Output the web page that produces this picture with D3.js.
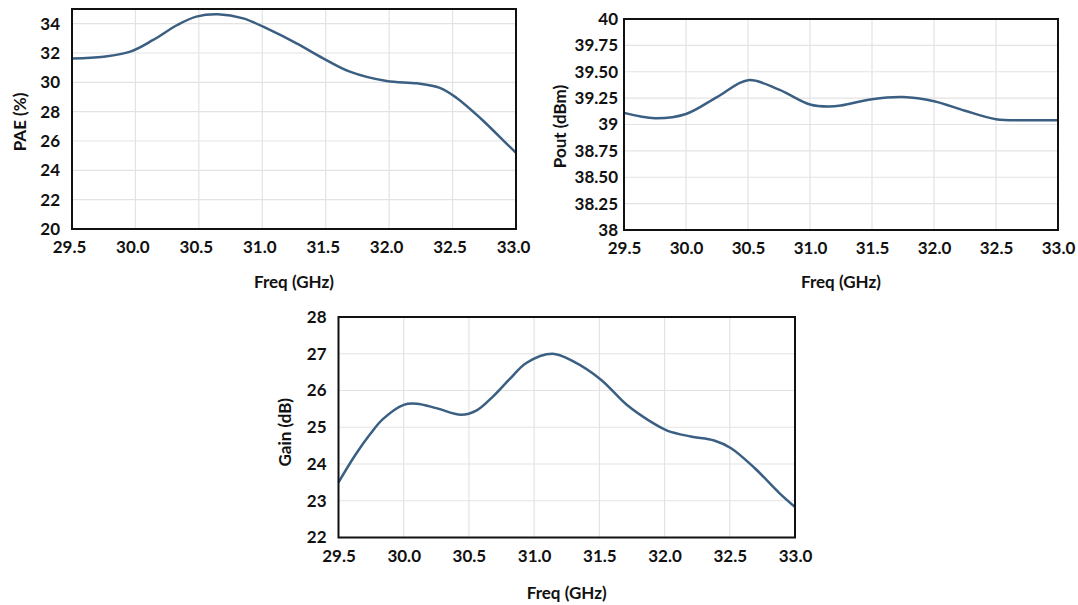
<!DOCTYPE html>
<html><head><meta charset="utf-8">
<script src="https://cdn.jsdelivr.net/npm/d3@7"></script>
<style>
html,body{margin:0;padding:0;background:#fff;}
svg{display:block;}
text{font-family:Lato,"Open Sans",sans-serif;font-weight:bold;fill:#111;}
</style></head>
<body>
<svg id="chart" width="1078" height="605"></svg>
<script>
// ---- data ----
const freqTicks = [29.5, 30.0, 30.5, 31.0, 31.5, 32.0, 32.5, 33.0];

const paeFreq  = [29.5, 29.75, 29.96, 30.14, 30.33, 30.48, 30.65, 30.85, 31.06, 31.27, 31.48, 31.69, 31.98, 32.22, 32.4, 32.53, 32.72, 32.95, 33.0];
const paeVals  = [31.62, 31.75, 32.09, 32.89, 33.91, 34.48, 34.64, 34.36, 33.57, 32.66, 31.64, 30.73, 30.09, 29.93, 29.62, 28.95, 27.55, 25.61, 25.2];
const paeTicks = [20, 22, 24, 26, 28, 30, 32, 34];

const poutFreq = [29.5, 29.75, 30.0, 30.25, 30.5, 30.75, 31.0, 31.15, 31.25, 31.5, 31.75, 32.0, 32.25, 32.5, 32.75, 33.0];
const poutVals = [39.11, 39.06, 39.10, 39.26, 39.42, 39.33, 39.19, 39.17, 39.18, 39.24, 39.26, 39.22, 39.13, 39.05, 39.04, 39.04];
const poutTicks = [38, 38.25, 38.5, 38.75, 39, 39.25, 39.5, 39.75, 40];
const poutTickLabels = ["38", "38.25", "38.50", "38.75", "39", "39.25", "39.50", "39.75", "40"];

const gainFreq = [29.5, 29.63, 29.74, 29.84, 30.0, 30.1, 30.25, 30.44, 30.56, 30.68, 30.81, 30.94, 31.14, 31.3, 31.51, 31.71, 31.89, 32.02, 32.2, 32.38, 32.51, 32.69, 32.88, 33.0];
const gainVals = [23.5, 24.25, 24.8, 25.22, 25.61, 25.64, 25.52, 25.34, 25.46, 25.82, 26.3, 26.75, 27.0, 26.79, 26.3, 25.61, 25.16, 24.91, 24.75, 24.64, 24.43, 23.89, 23.21, 22.83];
const gainTicks = [22, 23, 24, 25, 26, 27, 28];

const xTitle = "Freq (GHz)";

// ---- drawing ----
const svg = d3.select("#chart");

function panel(cfg) {
  const g = svg.append("g");
  const x = d3.scaleLinear().domain([29.5, 33.0]).range([cfg.x0, cfg.x1]);
  const y = d3.scaleLinear().domain(cfg.yDomain).range([cfg.y1, cfg.y0]);

  // grid
  g.append("g").selectAll("line").data(freqTicks).join("line")
    .attr("x1", d => x(d)).attr("x2", d => x(d))
    .attr("y1", cfg.y0).attr("y2", cfg.y1)
    .attr("stroke", "#e3e3e3").attr("stroke-width", 1.2);
  g.append("g").selectAll("line").data(cfg.yTicks).join("line")
    .attr("x1", cfg.x0).attr("x2", cfg.x1)
    .attr("y1", d => y(d)).attr("y2", d => y(d))
    .attr("stroke", "#e3e3e3").attr("stroke-width", 1.2);

  // line
  const line = d3.line().x((d, i) => x(cfg.fx[i])).y(d => y(d)).curve(d3.curveCatmullRom.alpha(0.5));
  g.append("path").datum(cfg.vals).attr("d", line)
    .attr("fill", "none").attr("stroke", "#3b5f82").attr("stroke-width", 2.5);

  // frame
  g.append("rect").attr("x", cfg.x0).attr("y", cfg.y0)
    .attr("width", cfg.x1 - cfg.x0).attr("height", cfg.y1 - cfg.y0)
    .attr("fill", "none").attr("stroke", "#111").attr("stroke-width", 2);

  // x axis labels
  const xa = d3.axisBottom(x).tickValues(freqTicks).tickFormat(d3.format(".1f")).tickSize(0).tickPadding(12);
  const xg = g.append("g").attr("transform", `translate(0,${cfg.y1})`).call(xa);
  xg.select(".domain").remove();
  xg.selectAll("text").attr("font-size", 17).attr("fill", "#111").attr("dx", cfg.xLabelDx || 0)
    .style("font-family", "Lato, sans-serif").style("font-weight", "bold");

  // y axis labels
  const ya = d3.axisLeft(y).tickValues(cfg.yTicks).tickSize(0).tickPadding(cfg.yPad)
    .tickFormat((d, i) => cfg.yLabels ? cfg.yLabels[i] : d);
  const yg = g.append("g").attr("transform", `translate(${cfg.x0},0)`).call(ya);
  yg.select(".domain").remove();
  yg.selectAll("text").attr("font-size", 17).attr("fill", "#111")
    .style("font-family", "Lato, sans-serif").style("font-weight", "bold");

  // titles
  g.append("text").attr("x", (cfg.x0 + cfg.x1) / 2).attr("y", cfg.y1 + cfg.xTitleDy)
    .attr("text-anchor", "middle").attr("font-size", 17).text(xTitle);
  g.append("text").attr("transform", `translate(${cfg.yTitleX},${(cfg.y0 + cfg.y1) / 2 + cfg.yTitleDy}) rotate(-90)`)
    .attr("text-anchor", "middle").attr("font-size", 17).text(cfg.yTitle);
}

panel({x0: 72, x1: 516, y0: 9, y1: 229, yDomain: [20, 35], yTicks: paeTicks, xLabelDx: -3,
  fx: paeFreq, vals: paeVals, yPad: 12, yTitle: "PAE (%)", yTitleX: 25.5, yTitleDy: 3, xTitleDy: 58.5});
panel({x0: 624, x1: 1058, y0: 19, y1: 230, yDomain: [38, 40], yTicks: poutTicks, yLabels: poutTickLabels,
  fx: poutFreq, vals: poutVals, yPad: 6, yTitle: "Pout (dBm)", yTitleX: 565.5, yTitleDy: 2, xTitleDy: 57.5});
panel({x0: 338.5, x1: 795, y0: 317, y1: 537.5, yDomain: [22, 28], yTicks: gainTicks,
  fx: gainFreq, vals: gainVals, yPad: 12, yTitle: "Gain (dB)", yTitleX: 290.5, yTitleDy: 5, xTitleDy: 61});
</script>
</body></html>
